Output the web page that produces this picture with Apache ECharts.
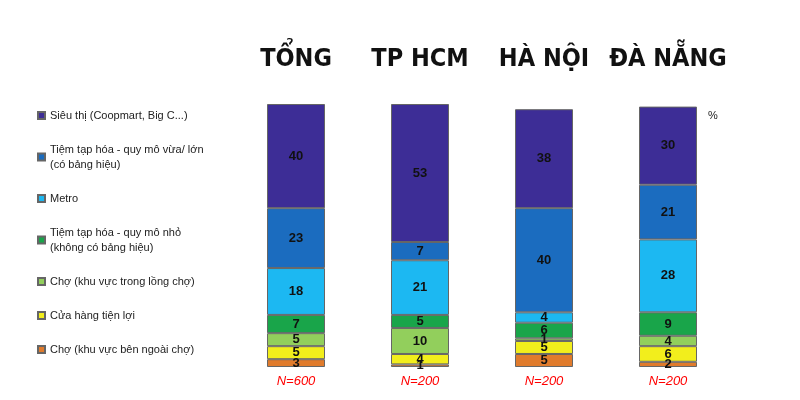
<!DOCTYPE html><html><head><meta charset="utf-8">
<script src="https://cdn.jsdelivr.net/npm/echarts@6/dist/echarts.min.js"></script>
<style>body{margin:0;background:#fff}#c{width:800px;height:400px}</style></head><body><div id="c"></div>
<script>
const categories=['TỔNG','TP HCM','HÀ NỘI','ĐÀ NẴNG'];
const sampleLabels=['N=600','N=200','N=200','N=200'];
const seriesNames=['Siêu thị (Coopmart, Big C...)','Tiệm tạp hóa - quy mô vừa/ lớn\n(có bảng hiệu)','Metro','Tiệm tạp hóa - quy mô nhỏ\n(không có bảng hiệu)','Chợ (khu vực trong lồng chợ)','Cửa hàng tiện lợi','Chợ (khu vực bên ngoài chợ)'];
const sieuThi=[40,53,38,30];
const tapHoaLon=[23,7,40,21];
const metro=[18,21,4,28];
const tapHoaNho=[7,5,6,9];
const choTrong=[5,10,1,4];
const tienLoi=[5,4,5,6];
const choNgoai=[3,1,5,2];
const colors=['#3d2d96','#1b6cbf','#1cb8f2','#19a54a','#92cf5c','#f2ee1c','#e07b2c'];
const stackData=[choNgoai,tienLoi,choTrong,tapHoaNho,metro,tapHoaLon,sieuThi];
const stackNames=[6,5,4,3,2,1,0];
const series=stackData.map((d,i)=>({
  name:seriesNames[stackNames[i]],type:'bar',stack:'s',barWidth:58,data:d,
  itemStyle:{color:colors[stackNames[i]],borderColor:'#666',borderWidth:1},
  label:{show:true,color:'#111',fontWeight:'bold',fontSize:13,fontFamily:'Arial'}
}));
const chart=echarts.init(document.getElementById('c'));
chart.setOption({
  animation:false,
  grid:{left:234,right:70,top:104,bottom:33},
  legend:{orient:'vertical',left:32,top:103,itemWidth:7,itemHeight:7,itemGap:19,icon:'rect',
    data:seriesNames,textStyle:{fontSize:11,color:'#222',lineHeight:15,fontFamily:'Arial'}},
  xAxis:[
    {type:'category',data:categories,position:'top',axisLine:{show:false},axisTick:{show:false},
      axisLabel:{interval:0,hideOverlap:false,margin:32,fontSize:25,fontWeight:'bold',color:'#111',fontFamily:'DejaVu Sans Condensed'}},
    {type:'category',data:sampleLabels,position:'bottom',axisLine:{show:false},axisTick:{show:false},
      axisLabel:{interval:0,margin:8,fontSize:13,fontStyle:'italic',color:'#f00',fontFamily:'Arial'}}
  ],
  yAxis:{type:'value',min:0,max:101,show:false},
  graphic:[{type:'text',left:708,top:110,style:{text:'%',fontSize:11,fill:'#222'}}],
  series:series
});
</script></body></html>
